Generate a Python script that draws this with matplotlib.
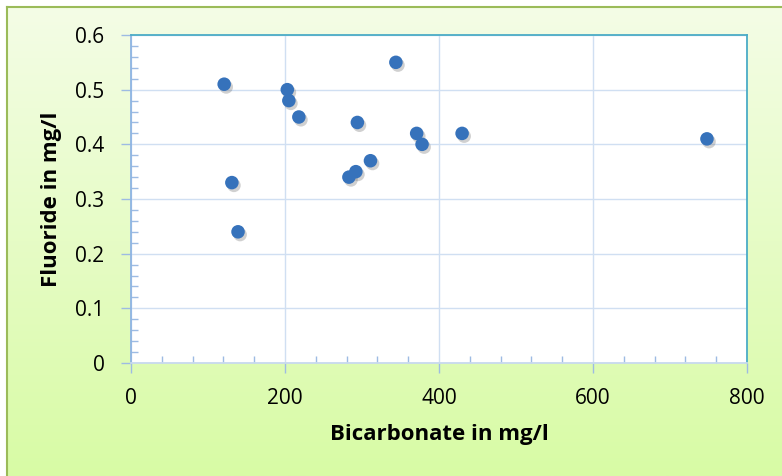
import numpy as np
import matplotlib.pyplot as plt
from matplotlib.ticker import MultipleLocator
from matplotlib.colors import LinearSegmentedColormap
import matplotlib.patheffects as pe

bicarbonate = [121, 131, 139, 203, 205, 218, 294, 283, 292, 311, 344, 371, 378, 430, 748]
fluoride = [0.51, 0.33, 0.24, 0.50, 0.48, 0.45, 0.44, 0.34, 0.35, 0.37, 0.55, 0.42, 0.40, 0.42, 0.41]

x_ticks = [0, 200, 400, 600, 800]
y_ticks = [0, 0.1, 0.2, 0.3, 0.4, 0.5, 0.6]

plt.rcParams['font.family'] = ['Open Sans', 'DejaVu Sans']

W, H = 782, 476
fig = plt.figure(figsize=(W / 100, H / 100), dpi=100)
fig.patch.set_facecolor('white')

# green gradient chart area with border
bg = fig.add_axes([7 / W, 0, 1 - 7 / W, 1 - 7 / H])
cmap = LinearSegmentedColormap.from_list('bg', ['#f4fde6', '#d8fba5'])
bg.imshow(np.linspace(0, 1, 256).reshape(-1, 1), aspect='auto', cmap=cmap,
          extent=[0, 1, 0, 1], origin='upper')
bg.set_xlim(0, 1)
bg.set_ylim(0, 1)
bg.set_xticks([])
bg.set_yticks([])
for s in ['right', 'bottom']:
    bg.spines[s].set_visible(False)
for s in ['left', 'top']:
    bg.spines[s].set_color('#9bbb59')
    bg.spines[s].set_linewidth(1.5)

ax = fig.add_axes([131 / W, 1 - 363 / H, (747 - 131) / W, (363 - 35) / H])
ax.set_facecolor('white')
ax.set_xlim(0, 800)
ax.set_ylim(0, 0.6)
ax.set_xticks(x_ticks)
ax.set_yticks(y_ticks)
ax.set_xticklabels([str(v) for v in x_ticks])
ax.set_yticklabels(['0' if v == 0 else '%.1f' % v for v in y_ticks])
ax.xaxis.set_minor_locator(MultipleLocator(40))
ax.yaxis.set_minor_locator(MultipleLocator(0.02))
ax.grid(True, which='major', color='#d0dff2', linewidth=1.0)
ax.set_axisbelow(True)

ax.tick_params(which='major', direction='out', length=7, color='#9dbbe3', width=1,
               labelsize=15, colors='#9dbbe3', labelcolor='black')
ax.tick_params(axis='y', which='major', pad=12)
ax.tick_params(axis='x', which='major', pad=11)
ax.tick_params(which='minor', direction='in', length=5, color='#9dbbe3', width=1)
ax.spines['left'].set_color('#8eb4e3')
ax.spines['bottom'].set_color('#c8d9ee')
ax.spines['top'].set_color('#4bacc6')
ax.spines['right'].set_color('#4bacc6')
for s in ax.spines.values():
    s.set_linewidth(1.3)

ax.scatter(bicarbonate, fluoride, s=95, color='#3672bb', edgecolors='none', zorder=3,
           path_effects=[pe.SimplePatchShadow(offset=(1.5, -2), shadow_rgbFace='#666666', alpha=0.3),
                         pe.Normal()])

ax.set_xlabel('Bicarbonate in mg/l', fontsize=16, fontweight='bold')
ax.set_ylabel('Fluoride in mg/l', fontsize=16, fontweight='bold')
ax.xaxis.set_label_coords(0.5, -0.185)
ax.yaxis.set_label_coords(-0.112, 0.5)

plt.savefig('out.png', dpi=100)
